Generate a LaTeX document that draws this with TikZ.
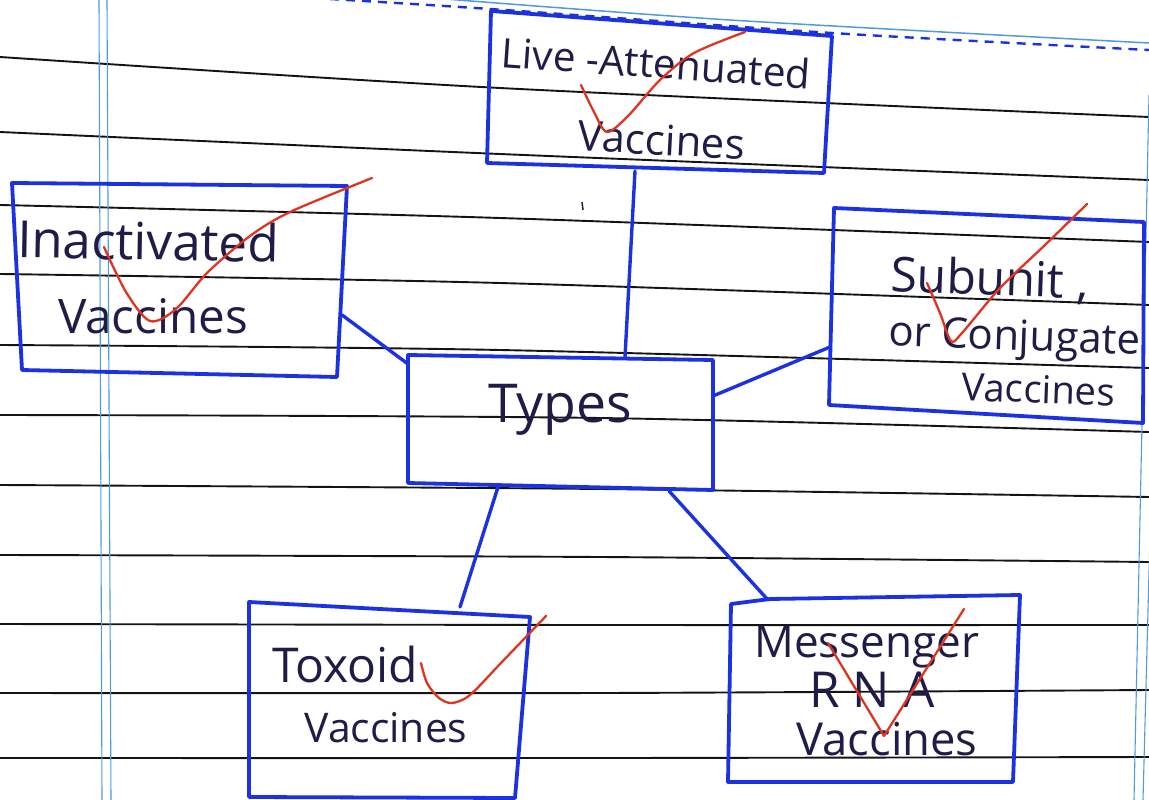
\documentclass[tikz,border=0pt]{standalone}
\usepackage{fontspec}
\setmainfont{Open Sans}
\definecolor{pen}{RGB}{28,50,225}
\definecolor{ink}{RGB}{32,28,72}
\definecolor{rulec}{RGB}{20,20,20}
\definecolor{marginc}{RGB}{80,155,220}
\definecolor{checkc}{RGB}{222,52,32}
\newcommand{\hw}[2]{\resizebox{#1pt}{!}{#2}}
\begin{document}
\begin{tikzpicture}[x=1pt,y=-1pt,
  rl/.style={draw=rulec,line width=1.9pt},
  mg/.style={draw=marginc,line width=1.1pt},
  boxline/.style={draw=pen,line width=3.8pt,line join=round,line cap=round},
  conn/.style={draw=pen,line width=3.4pt,line cap=round},
  lbl/.style={text=ink,inner sep=0pt,anchor=base,font=\fontsize{40}{44}\selectfont},
  tick/.style={draw=checkc,line width=2.3pt,line cap=round,line join=round}]
\fill[white] (0,0) rectangle (1149,800);
\useasboundingbox (0,0) rectangle (1149,800);
\clip (0,0) rectangle (1149,800);
% ruled lines
\foreach \a/\b/\c in {57/88/117, 132/154/180, 205/218/242, 274/283/305, 345/350/368}
  \draw[rl] plot[smooth] coordinates {(0,\a) (500,\b) (1149,\c)};
\foreach \a/\b/\c in {415/418/432, 485/489/497, 555/557/562, 624/625/625, 693/693/690, 758/758/757}
  \draw[rl] plot[smooth] coordinates {(0,\a) (600,\b) (1149,\c)};
% margin lines
\draw[mg] (99,0) -- (102,800);
\draw[mg] (107,0) -- (111,800);
\draw[mg] (1149,95) -- (1134,800);
\draw[mg] (1153,420) -- (1143,800);
\draw[mg,line width=1.5pt] plot[smooth] coordinates {(420,-3) (730,20) (1149,43)};
\draw[pen,line width=2.4pt,dash pattern=on 9pt off 7pt] plot[smooth] coordinates {(330,-1) (490,9) (832,33) (1149,50)};
% box corners
\coordinate (la) at (491,11); \coordinate (lb) at (832,36); \coordinate (lc) at (824,173); \coordinate (ld) at (487,163);
\coordinate (ia) at (12,183); \coordinate (ib) at (347,186); \coordinate (ic) at (337,377); \coordinate (id) at (22,370);
\coordinate (ta) at (408,355); \coordinate (tb) at (713,360); \coordinate (tc) at (713,490); \coordinate (td) at (408,483);
\coordinate (sa) at (834,208); \coordinate (sb) at (1144,222); \coordinate (sc) at (1143,423); \coordinate (sd) at (829,405);
\coordinate (xa) at (249,602); \coordinate (xb) at (530,617); \coordinate (xc) at (515,798); \coordinate (xd) at (249,797);
\coordinate (ma) at (731,604); \coordinate (mm) at (770,599); \coordinate (mb) at (1020,595); \coordinate (mc) at (1013,782); \coordinate (md) at (728,782);
% connector ends
\coordinate (live-s) at (635,171); \coordinate (types-n) at (625,357);
\coordinate (inact-e) at (342,315); \coordinate (types-nw) at (408,364);
\coordinate (sub-w) at (830,347); \coordinate (types-e) at (713,396);
\coordinate (types-sw) at (498,487); \coordinate (tox-n) at (460,607);
\coordinate (types-se) at (669,491); \coordinate (mrna-n) at (768,600);
% connectors
\draw[conn] (live-s) -- (types-n);
\draw[conn] (inact-e) -- (types-nw);
\draw[conn] (sub-w) -- (types-e);
\draw[conn] (types-sw) -- (tox-n);
\draw[conn] (types-se) -- (mrna-n);
% boxes
\draw[boxline] (la) -- (lb) -- (lc) -- (ld) -- cycle;
\draw[boxline] (ia) -- (ib) -- (ic) -- (id) -- cycle;
\draw[boxline] (ta) -- (tb) -- (tc) -- (td) -- cycle;
\draw[boxline] (sa) -- (sb) -- (sc) -- (sd) -- cycle;
\draw[boxline] (xa) -- (xb) -- (xc) -- (xd) -- cycle;
\draw[boxline] (ma) -- (mm) -- (mb) -- (mc) -- (md) -- cycle;
% labels
\node[lbl,rotate=-4] (live1) at (655,78) {\hw{310}{Live -Attenuated}};
\node[lbl,rotate=-3] (live2) at (661,155) {\hw{167}{Vaccines}};
\node[lbl,rotate=-1] (inact1) at (148,260) {\hw{262}{Inactivated}};
\node[lbl] (inact2) at (153,333) {\hw{190}{Vaccines}};
\node[lbl] (types) at (560,422) {\hw{144}{Types}};
\node[lbl,rotate=-2] (sub1) at (989,295) {\hw{198}{Subunit ,}};
\node[lbl,rotate=-2] (sub2) at (1014,350) {\hw{252}{or Conjugate}};
\node[lbl,rotate=-2] (sub3) at (1038,403) {\hw{153}{Vaccines}};
\node[lbl] (tox1) at (345,682) {\hw{146}{Toxoid}};
\node[lbl] (tox2) at (386,742) {\hw{163}{Vaccines}};
\node[lbl] (mrna1) at (867,657) {\hw{225}{Messenger}};
\node[lbl] (mrna2) at (872,707) {\hw{125}{R N A}};
\node[lbl] (mrna3) at (887,755) {\hw{181}{Vaccines}};
% stray mark
\draw[ink,line width=1.5pt] (582,202) -- (583,210);
% red check marks
\draw[tick] plot[smooth] coordinates {(581,85) (594,112) (607,132) (628,116) (660,80) (694,53) (745,32)};
\draw[tick] plot[smooth] coordinates {(104,247) (126,292) (150,321) (176,309) (207,273) (250,236) (290,212) (372,178)};
\draw[tick] plot[smooth] coordinates {(927,283) (940,313) (951,341) (962,333) (1000,288) (1045,245) (1087,204)};
\draw[tick] plot[smooth] coordinates {(421,663) (427,683) (439,698) (452,703) (470,695) (500,664) (546,616)};
\draw[tick] (828,643) -- (884,736) -- (964,609);
\end{tikzpicture}
\end{document}
